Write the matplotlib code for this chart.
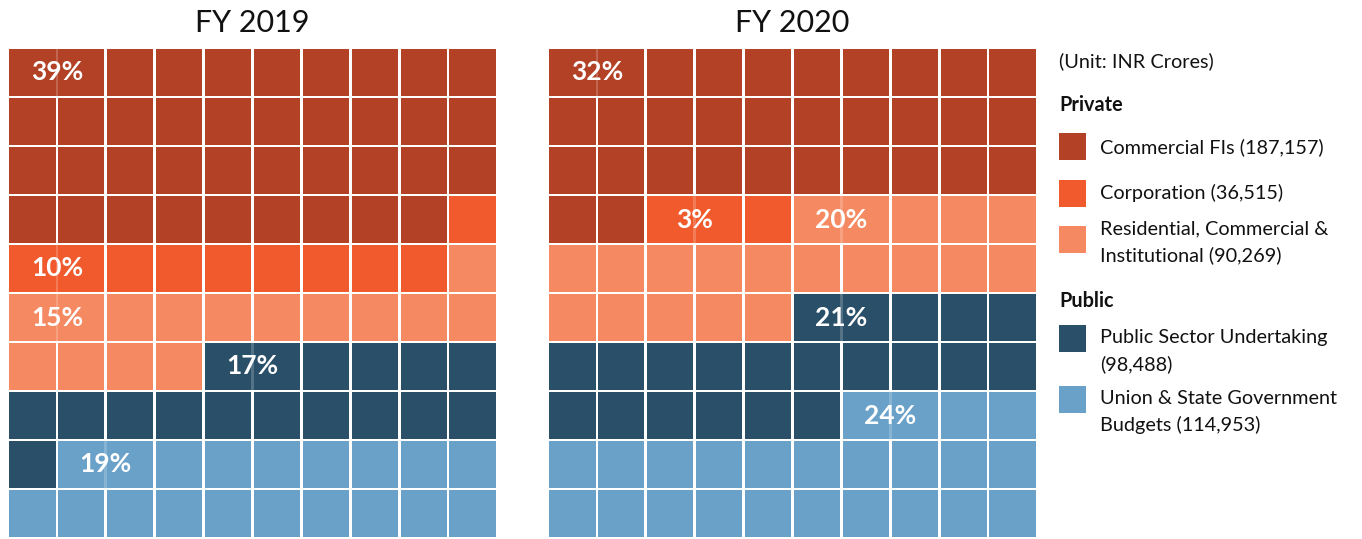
import matplotlib
matplotlib.use("Agg")
import matplotlib.pyplot as plt
from matplotlib.patches import Rectangle

plt.rcParams['font.family'] = ['Lato', 'DejaVu Sans']

years = ["FY 2019", "FY 2020"]
categories = ["Commercial FIs (187,157)", "Corporation (36,515)",
              "Residential, Commercial &\nInstitutional (90,269)",
              "Public Sector Undertaking\n(98,488)",
              "Union & State Government\nBudgets (114,953)"]
groups = ["Private", "Private", "Private", "Public", "Public"]
pct_2019 = [39, 10, 15, 17, 19]
pct_2020 = [32, 3, 20, 21, 24]
colors = ["#B24126", "#F05A2C", "#F58A62", "#2A5069", "#6AA1C8"]

W, H = 1362, 539
fig = plt.figure(figsize=(W / 100, H / 100), dpi=100)

def px_axes(x0, y0, x1, y1):
    return fig.add_axes([x0 / W, 1 - y1 / H, (x1 - x0) / W, (y1 - y0) / H])

g = 0.055
grid_pos = [(8, 48, 497, 538), (548, 48, 1037, 538)]
for (x0, y0, x1, y1), year, pcts in zip(grid_pos, years, [pct_2019, pct_2020]):
    ax = px_axes(x0, y0, x1, y1)
    ax.set_xlim(0, 10)
    ax.set_ylim(10, 0)
    ax.axis("off")
    cells = []
    for k, p in enumerate(pcts):
        cells += [k] * p
    for i, k in enumerate(cells):
        r, c = divmod(i, 10)
        ax.add_patch(Rectangle((c + g / 2, r + g / 2), 1 - g, 1 - g,
                               facecolor=colors[k], edgecolor="none"))
    # labels: first cell with same-category right neighbour in same row
    for k, p in enumerate(pcts):
        for i in range(len(cells) - 1):
            r, c = divmod(i, 10)
            if cells[i] == k and c < 9 and cells[i + 1] == k:
                ax.add_patch(Rectangle((c + 1 - g / 2, r + g / 2), g, 1 - g,
                                       facecolor=colors[k], edgecolor="none", alpha=0.8))
                ax.text(c + 1, r + 0.5, f"{p}%", color="white", fontsize=19,
                        fontweight="bold", ha="center", va="center")
                break
    fig.text(((x0 + x1) / 2) / W, 1 - 23 / H, year, ha="center", va="center",
             fontsize=22, color="#111111")

# legend
fs = 14.3
fig.text(1059 / W, 1 - 61 / H, "(Unit: INR Crores)", fontsize=fs, va="center", ha="left", color="#111111")
group_y = {"Private": 105, "Public": 301}
square_y = [147, 193, 240, 338, 399]
text_y = [147, 193, 229, 338, 399]
shown = set()
for k, (name, grp) in enumerate(zip(categories, groups)):
    if grp not in shown:
        fig.text(1059 / W, 1 - group_y[grp] / H, grp, fontsize=fs, fontweight="bold",
                 va="center", ha="left", color="#111111")
        shown.add(grp)
    yc = square_y[k]
    lax = px_axes(1059, yc - 13.5, 1086, yc + 13.5)
    lax.axis("off")
    lax.add_patch(Rectangle((0, 0), 1, 1, facecolor=colors[k], edgecolor="none"))
    for j, line in enumerate(name.split("\n")):
        fig.text(1100 / W, 1 - (text_y[k] + 26 * j) / H, line, fontsize=fs,
                 va="center", ha="left", color="#111111")

fig.savefig("out.png", dpi=100, facecolor="white")
